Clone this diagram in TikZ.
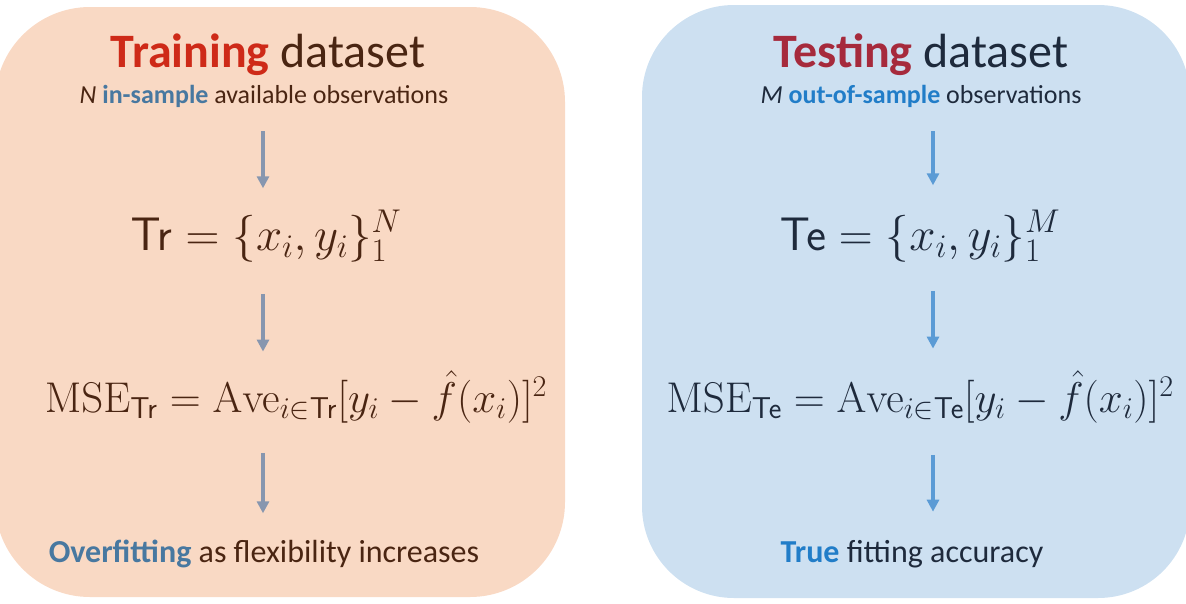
\documentclass[tikz,border=0pt]{standalone}
\usepackage{fix-cm}
\usepackage[no-math]{fontspec}
\setmainfont{Carlito}
\usetikzlibrary{arrows.meta}

\definecolor{trbg}{RGB}{249,217,196}
\definecolor{tebg}{RGB}{205,224,241}
\definecolor{trred}{RGB}{206,42,24}
\definecolor{tered}{RGB}{166,42,60}
\definecolor{trdark}{RGB}{74,37,18}
\definecolor{tedark}{RGB}{30,42,60}
\definecolor{trblue}{RGB}{72,120,160}
\definecolor{teblue}{RGB}{33,125,200}
\definecolor{trarrow}{RGB}{135,150,175}
\definecolor{tearrow}{RGB}{91,155,213}

\tikzset{
  titletext/.style={anchor=base, inner sep=0pt, font=\fontsize{48}{58}\selectfont},
  subtext/.style={anchor=base, inner sep=0pt, font=\fontsize{26}{31}\selectfont},
  settext/.style={anchor=base, inner sep=0pt, font=\fontsize{47}{56}\selectfont},
  msetext/.style={anchor=base, inner sep=0pt, font=\fontsize{43}{52}\selectfont},
  endtext/.style={anchor=base, inner sep=0pt, font=\fontsize{32}{38}\selectfont},
  flow/.style={line width=4pt, -{Triangle[width=12pt,length=12pt]}},
}

\begin{document}
\begin{tikzpicture}[x=1pt,y=-1pt]
  \useasboundingbox (0,0) rectangle (1186,603);
  % Training side
  \fill[trbg, rounded corners=95pt] (-5,7) rectangle (565,597);
  \coordinate (trcol) at (263,0);
  \node[titletext, text=trdark] (trtitle) at (268,67) {\textcolor{trred}{\textbf{Training}} dataset};
  \node[subtext, text=trdark] (trsub) at (264,103) {\textit{N} \textcolor{trblue}{\textbf{in-sample}} available observations};
  \node[settext, text=trdark] (trset) at (266,250) {$\mathsf{Tr} = \{x_i, y_i\}_1^N$};
  \node[msetext, text=trdark] (trmse) at (296,412) {$\mathrm{MSE}_{\mathsf{Tr}} = \mathrm{Ave}_{i\in\mathsf{Tr}}[y_i - \hat{f}(x_i)]^2$};
  \node[endtext, text=trdark] (trend) at (264,562) {\textcolor{trblue}{\textbf{Overfitting}} as flexibility increases};
  \draw[flow, trarrow, shorten <=24pt, shorten >=22pt] (trsub.south -| trcol) -- (trset.north -| trcol);
  \draw[flow, trarrow, shorten <=32pt, shorten >=19pt] (trset.south -| trcol) -- (trmse.north -| trcol);
  \draw[flow, trarrow, shorten <=30pt, shorten >=26pt] (trmse.south -| trcol) -- (trend.north -| trcol);
  % Testing side
  \fill[tebg, rounded corners=92pt] (642,5) rectangle (1190,598);
  \coordinate (tecol) at (933,0);
  \node[titletext, text=tedark] (tetitle) at (921,67) {\textcolor{tered}{\textbf{Testing}} dataset};
  \node[subtext, text=tedark] (tesub) at (921,103) {\textit{M} \textcolor{teblue}{\textbf{out-of-sample}} observations};
  \node[settext, text=tedark] (teset) at (920,250) {$\mathsf{Te} = \{x_i, y_i\}_1^M$};
  \node[msetext, text=tedark] (temse) at (920,412) {$\mathrm{MSE}_{\mathsf{Te}} = \mathrm{Ave}_{i\in\mathsf{Te}}[y_i - \hat{f}(x_i)]^2$};
  \node[endtext, text=tedark] (teend) at (912,562) {\textcolor{teblue}{\textbf{True}} fitting accuracy};
  \draw[flow, tearrow, shorten <=24pt, shorten >=25pt] (tesub.south -| tecol) -- (teset.north -| tecol);
  \draw[flow, tearrow, shorten <=29pt, shorten >=22pt] (teset.south -| tecol) -- (temse.north -| tecol);
  \draw[flow, tearrow, shorten <=32pt, shorten >=28pt] (temse.south -| tecol) -- (teend.north -| tecol);
\end{tikzpicture}
\end{document}
